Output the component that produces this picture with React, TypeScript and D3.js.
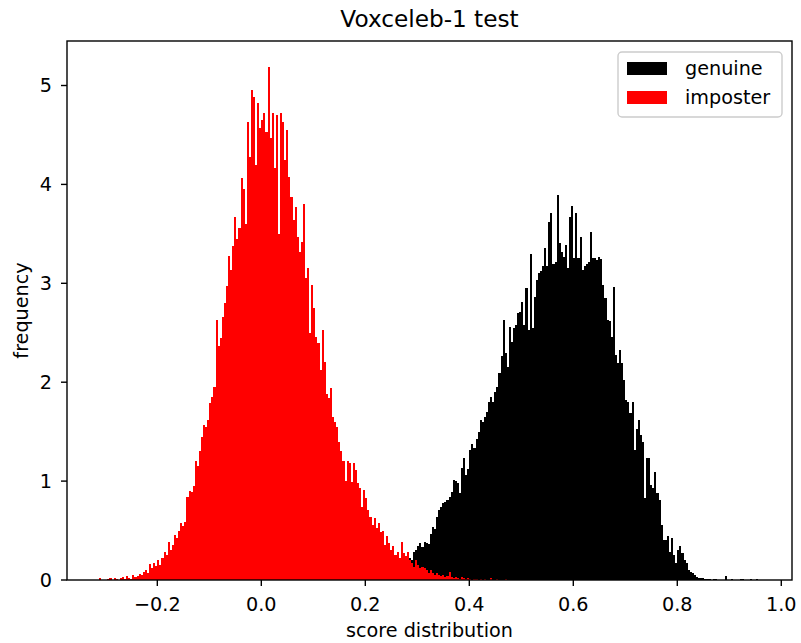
import React from "react";
import * as d3 from "d3";

// ---- data (histogram bin heights) ----
const BIN_WIDTH = 0.004;
const imposterStart = -0.312;
const imposterValues: number[] = [
  // -0.312 .. -0.244
  0.02, 0, 0, 0, 0.01, 0.02, 0, 0.02, 0.01, 0, 0.02, 0.03, 0.01, 0.04, 0.02, 0.01, 0.05, 0.03,
  // -0.24
  0.04, 0.06, 0.05, 0.08, 0.1, 0.07, 0.16, 0.12, 0.17, 0.14,
  // -0.20
  0.2, 0.15, 0.22, 0.28, 0.25, 0.38, 0.3, 0.35, 0.45, 0.42,
  // -0.16
  0.5, 0.58, 0.55, 0.59, 0.84, 0.9, 0.89, 0.95, 1.2, 1.15,
  // -0.12
  1.3, 1.45, 1.57, 1.55, 1.62, 1.79, 1.85, 1.95, 2.63, 2.37,
  // -0.08
  2.45, 2.66, 2.8, 2.97, 3.28, 3.13, 3.38, 3.67, 3.45, 3.56,
  // -0.04
  4.06, 3.95, 3.6, 4.63, 4.28, 4.95, 4.88, 4.2, 4.82, 4.57,
  // 0.00
  4.65, 4.72, 4.53, 5.19, 4.47, 4.72, 4.17, 4.7, 3.5, 4.72,
  // 0.04
  4.63, 4.25, 4.55, 4.07, 3.87, 3.64, 3.77, 3.47, 3.32, 3.42,
  // 0.08
  3.8, 3.05, 3.15, 2.5, 2.98, 2.75, 2.46, 2.4, 2.12, 2.53,
  // 0.12
  2.2, 1.88, 1.84, 1.94, 1.65, 1.6, 1.55, 1.4, 1.3, 1.2,
  // 0.16
  1.0, 1.2, 1.18, 0.99, 1.18, 1.11, 0.98, 0.93, 0.74, 0.91,
  // 0.20
  0.83, 0.71, 0.64, 0.56, 0.63, 0.53, 0.58, 0.49, 0.5, 0.35,
  // 0.24
  0.44, 0.37, 0.3, 0.34, 0.25, 0.28, 0.22, 0.38, 0.27, 0.24,
  // 0.28
  0.28, 0.2, 0.17, 0.13, 0.2, 0.15, 0.12, 0.13, 0.12, 0.1,
  // 0.32
  0.07, 0.1, 0.07, 0.05, 0.07, 0.05, 0.04, 0.05, 0.03, 0.04,
  // 0.36
  0.08, 0.03, 0.02, 0.03, 0.02, 0.01, 0.03, 0.02, 0.01, 0.02,
  // 0.40
  0.01, 0, 0.01, 0.01, 0, 0.01, 0, 0.01, 0, 0,
  // 0.44
  0.02, 0, 0, 0.01, 0, 0, 0, 0.01,
];

const genuineStart = 0.26;
const genuineValues: number[] = [
  // 0.26
  0.02, 0.05, 0.06, 0.1, 0.15, 0.18, 0.22, 0.2, 0.28, 0.3,
  // 0.30
  0.34, 0.37, 0.33, 0.38, 0.37, 0.36, 0.47, 0.54, 0.52, 0.64,
  // 0.34
  0.71, 0.74, 0.78, 0.79, 0.81, 0.84, 0.89, 1.01, 1.0, 0.98,
  // 0.38
  0.88, 1.13, 1.23, 1.06, 1.12, 1.31, 1.38, 1.33, 1.43, 1.5,
  // 0.42
  1.62, 1.6, 1.65, 1.7, 1.8, 1.85, 1.8, 1.9, 1.95, 2.09,
  // 0.46
  2.26, 2.63, 2.3, 2.15, 2.56, 2.41, 2.55, 2.58, 2.7, 2.71,
  // 0.50
  2.81, 2.58, 2.95, 2.53, 3.3, 2.55, 2.86, 3.03, 3.1, 3.12,
  // 0.54
  3.17, 3.36, 3.17, 3.62, 3.71, 3.2, 3.22, 3.89, 3.41, 3.32,
  // 0.58
  3.27, 3.39, 3.15, 3.67, 3.78, 3.26, 3.71, 3.26, 3.47, 3.13,
  // 0.62
  3.17, 3.2, 3.22, 3.52, 3.26, 3.26, 3.24, 3.27, 3.25, 2.98,
  // 0.66
  2.85, 2.63, 2.62, 2.46, 2.96, 2.27, 2.19, 2.33, 2.19, 2.02,
  // 0.70
  1.82, 1.8, 1.69, 1.8, 1.31, 1.53, 1.62, 1.47, 1.4, 0.83,
  // 0.74
  1.23, 1.23, 0.96, 0.93, 1.09, 0.88, 0.81, 0.56, 0.4, 0.4,
  // 0.78
  0.44, 0.28, 0.42, 0.25, 0.17, 0.3, 0.34, 0.27, 0.2, 0.17,
  // 0.82
  0.1, 0.08, 0.07, 0.05, 0.03, 0.02, 0.02, 0.02, 0.01, 0.01,
  // 0.86
  0.01, 0, 0.01, 0.01, 0, 0, 0, 0, 0.04, 0,
  // 0.90
  0, 0.01, 0, 0, 0, 0.01, 0.01, 0, 0, 0,
  // 0.94
  0.01, 0, 0, 0.01, 0, 0,
];

const xTicks = [-0.2, 0.0, 0.2, 0.4, 0.6, 0.8, 1.0];
const yTicks = [0, 1, 2, 3, 4, 5];
const seriesNames = ["genuine", "imposter"];
const seriesColors = ["#000000", "#ff0000"];
const titleText = "Voxceleb-1 test";
const xLabel = "score distribution";
const yLabel = "frequency";
const xDomain: [number, number] = [-0.3737, 1.0206];
const yDomain: [number, number] = [0, 5.45];

const W = 801;
const H = 643;
const M = { left: 67, right: 792, top: 41, bottom: 580 };
const FONT = "DejaVu Sans, sans-serif";
const FS = 19.2;

type Bin = { x0: number; x1: number; v: number };
const toBins = (start: number, vals: number[]): Bin[] =>
  vals.map((v, i) => ({ x0: start + i * BIN_WIDTH, x1: start + (i + 1) * BIN_WIDTH, v }));

export default function App() {
  const x = d3.scaleLinear().domain(xDomain).range([M.left, M.right]);
  const y = d3.scaleLinear().domain(yDomain).range([M.bottom, M.top]);
  const series = [toBins(genuineStart, genuineValues), toBins(imposterStart, imposterValues)];
  const fmtX = (t: number) => d3.format(".1f")(t).replace("-", "\u2212");

  return (
    <svg
      width={W}
      height={H}
      style={{ position: "absolute", left: 0, top: 0, background: "#fff" }}
      fontFamily={FONT}
    >
      <rect x={0} y={0} width={W} height={H} fill="#fff" />
      {series.map((bins, si) => (
        <g key={si} fill={seriesColors[si]} shapeRendering="crispEdges">
          {bins
            .filter((b) => b.v > 0)
            .map((b, i) => {
              const x0 = x(b.x0);
              const x1 = x(b.x1);
              const yy = y(b.v);
              return <rect key={i} x={x0} y={yy} width={x1 - x0} height={y(0) - yy} />;
            })}
        </g>
      ))}
      {/* frame */}
      <rect
        x={M.left}
        y={M.top}
        width={M.right - M.left}
        height={M.bottom - M.top}
        fill="none"
        stroke="#000"
        strokeWidth={1.4}
      />
      {/* x ticks */}
      {xTicks.map((t) => (
        <g key={t} transform={`translate(${x(t)},${M.bottom})`}>
          <line y1={0} y2={6} stroke="#000" strokeWidth={1.4} />
          <text y={31} textAnchor="middle" fontSize={FS} fill="#000">
            {fmtX(t)}
          </text>
        </g>
      ))}
      {/* y ticks */}
      {yTicks.map((t) => (
        <g key={t} transform={`translate(${M.left},${y(t)})`}>
          <line x1={0} x2={-6} stroke="#000" strokeWidth={1.4} />
          <text x={-15} textAnchor="end" fontSize={FS} fill="#000" dy="0.36em">
            {t}
          </text>
        </g>
      ))}
      <text x={(M.left + M.right) / 2} y={27} textAnchor="middle" fontSize={23.2} fill="#000">
        {titleText}
      </text>
      <text x={(M.left + M.right) / 2} y={637} textAnchor="middle" fontSize={FS} fill="#000">
        {xLabel}
      </text>
      <text
        transform={`translate(28,${(M.top + M.bottom) / 2}) rotate(-90)`}
        textAnchor="middle"
        fontSize={FS}
        fill="#000"
      >
        {yLabel}
      </text>
      {/* legend */}
      <g>
        <rect x={618} y={52} width={164} height={65} rx={4} fill="#fff" fillOpacity={0.8} stroke="#cccccc" strokeWidth={1.4} />
        {seriesNames.map((n, i) => (
          <g key={n} transform={`translate(0,${i * 29})`}>
            <rect x={627} y={62} width={40} height={13} fill={seriesColors[i]} />
            <text x={685} y={68.5} dy="0.36em" fontSize={FS} fill="#000">
              {n}
            </text>
          </g>
        ))}
      </g>
    </svg>
  );
}
